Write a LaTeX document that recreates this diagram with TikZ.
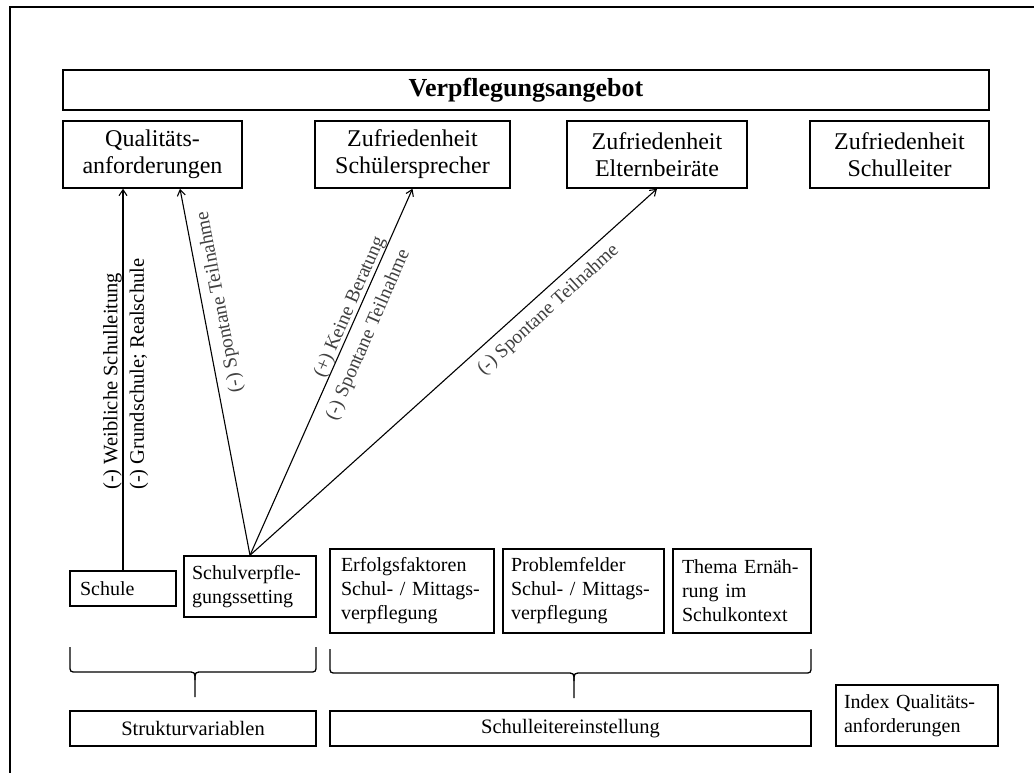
\documentclass[tikz,border=0pt]{standalone}
\usepackage{fontspec}
\setmainfont{Liberation Serif}
\usetikzlibrary{arrows.meta,calc}
\tikzset{
  box/.style={draw, line width=1.5pt, inner sep=0pt, align=center, font=\fontsize{24}{27}\selectfont},
  sbox/.style={draw, line width=1.5pt, inner ysep=0pt, align=left, font=\fontsize{20}{24}\selectfont},
  cbox/.style={draw, line width=1.5pt, inner sep=0pt, align=center, font=\fontsize{20.5}{24}\selectfont},
  arr/.style={line width=1.1pt, -{Straight Barb[length=6pt,width=8pt]}},
  lab/.style={font=\fontsize{20.5}{22}\selectfont, inner sep=0pt},
  slab/.style={font=\fontsize{19.5}{22}\selectfont, inner sep=0pt, text=black!75},
  brc/.style={line width=1.3pt, line join=round},
  frm/.style={line width=1.5pt},
}
\begin{document}
\begin{tikzpicture}[x=1pt,y=-1pt]
\useasboundingbox (0,0) rectangle (1034,773);
% frame (cropped)
\coordinate (fA) at (10,773);
\coordinate (fB) at (10,7);
\coordinate (fC) at (1034,7);
\draw[frm] (fA) -- (fB) -- (fC);

% top
\node[box, minimum width=926pt, minimum height=40pt, font=\fontsize{26}{28}\selectfont\bfseries] (angebot) at (526,90) {Verpflegungsangebot};
\node[box, minimum width=179pt, minimum height=67pt] (qual) at (152.5,154.5) {Qualitäts-\\anforderungen};
\node[box, minimum width=195pt, minimum height=67pt] (schueler) at (412.5,154.5) {Zufriedenheit\\Schülersprecher};
\node[box, minimum width=180pt, minimum height=67pt] (eltern) at (657,154.5) {Zufriedenheit\\Elternbeiräte};
\node[box, minimum width=179pt, minimum height=67pt] (leiter) at (899.5,154.5) {Zufriedenheit\\Schulleiter};

% bottom boxes
\node[sbox, minimum width=106pt, minimum height=35pt, inner xsep=10pt, text width=86pt] (schule) at (123,588.5) {Schule};
\node[sbox, minimum width=132pt, minimum height=61pt, inner xsep=8pt, text width=116pt] (setting) at (250,586.5) {Schulverpfle-\\gungssetting};
\node[sbox, minimum width=164pt, minimum height=84pt, inner xsep=11pt, text width=142pt] (erfolg) at (412,591) {Erfolgsfaktoren\\Schul- / Mittags-\\verpflegung};
\node[sbox, minimum width=161pt, minimum height=84pt, inner xsep=8pt, text width=145pt] (problem) at (583.5,591) {Problemfelder\\Schul- / Mittags-\\verpflegung};
\node[sbox, minimum width=138pt, minimum height=84pt, inner xsep=9pt, text width=120pt] (thema) at (742,591) {Thema Ernäh-\\rung im\\Schulkontext};
\node[cbox, minimum width=246pt, minimum height=35pt] (struktur) at (193,728.5) {Strukturvariablen};
\node[cbox, minimum width=481pt, minimum height=35pt] (sle) at (570.5,728.5) {Schulleitereinstellung};
\node[sbox, minimum width=162pt, minimum height=61pt, inner xsep=8pt, text width=146pt] (index) at (917,715.5) {Index Qualitäts-\\anforderungen};

% arrows
\coordinate (qin) at ($(qual.south)+(27.5,0)$);
\draw[arr] (schule.north) -- (schule.north |- qual.south);
\draw[arr] (setting.north) -- (qin);
\draw[arr] (setting.north) -- (schueler.south);
\draw[arr] (setting.north) -- (eltern.south);

% labels
\node[lab, rotate=90, anchor=west] (l1) at (112.5,490) {(-) Weibliche Schulleitung};
\node[lab, rotate=90, anchor=west] (l2) at (139,490) {(-) Grundschule; Realschule};
\node[slab, rotate=100.8] (l3) at (220,302) {(-) Spontane Teilnahme};
\node[slab, rotate=66.5] (l4) at (350,307) {(+) Keine Beratung};
\node[slab, rotate=66.5] (l5) at (368.5,335) {(-) Spontane Teilnahme};
\node[slab, rotate=42.4] (l6) at (548.5,310) {(-) Spontane Teilnahme};

% braces
\draw[brc] (70,647) -- (70,665) .. controls (70,672) .. (77,672) -- (187,672) .. controls (195,672) .. (195,680) -- (195,697);
\draw[brc] (195,680) .. controls (195,672) .. (203,672) -- (309,672) .. controls (316,672) .. (316,665) -- (316,647);
\draw[brc] (330,649) -- (330,666) .. controls (330,673) .. (337,673) -- (566,673) .. controls (574,673) .. (574,681) -- (574,698);
\draw[brc] (574,681) .. controls (574,673) .. (582,673) -- (804,673) .. controls (811,673) .. (811,666) -- (811,649);
\end{tikzpicture}
\end{document}
